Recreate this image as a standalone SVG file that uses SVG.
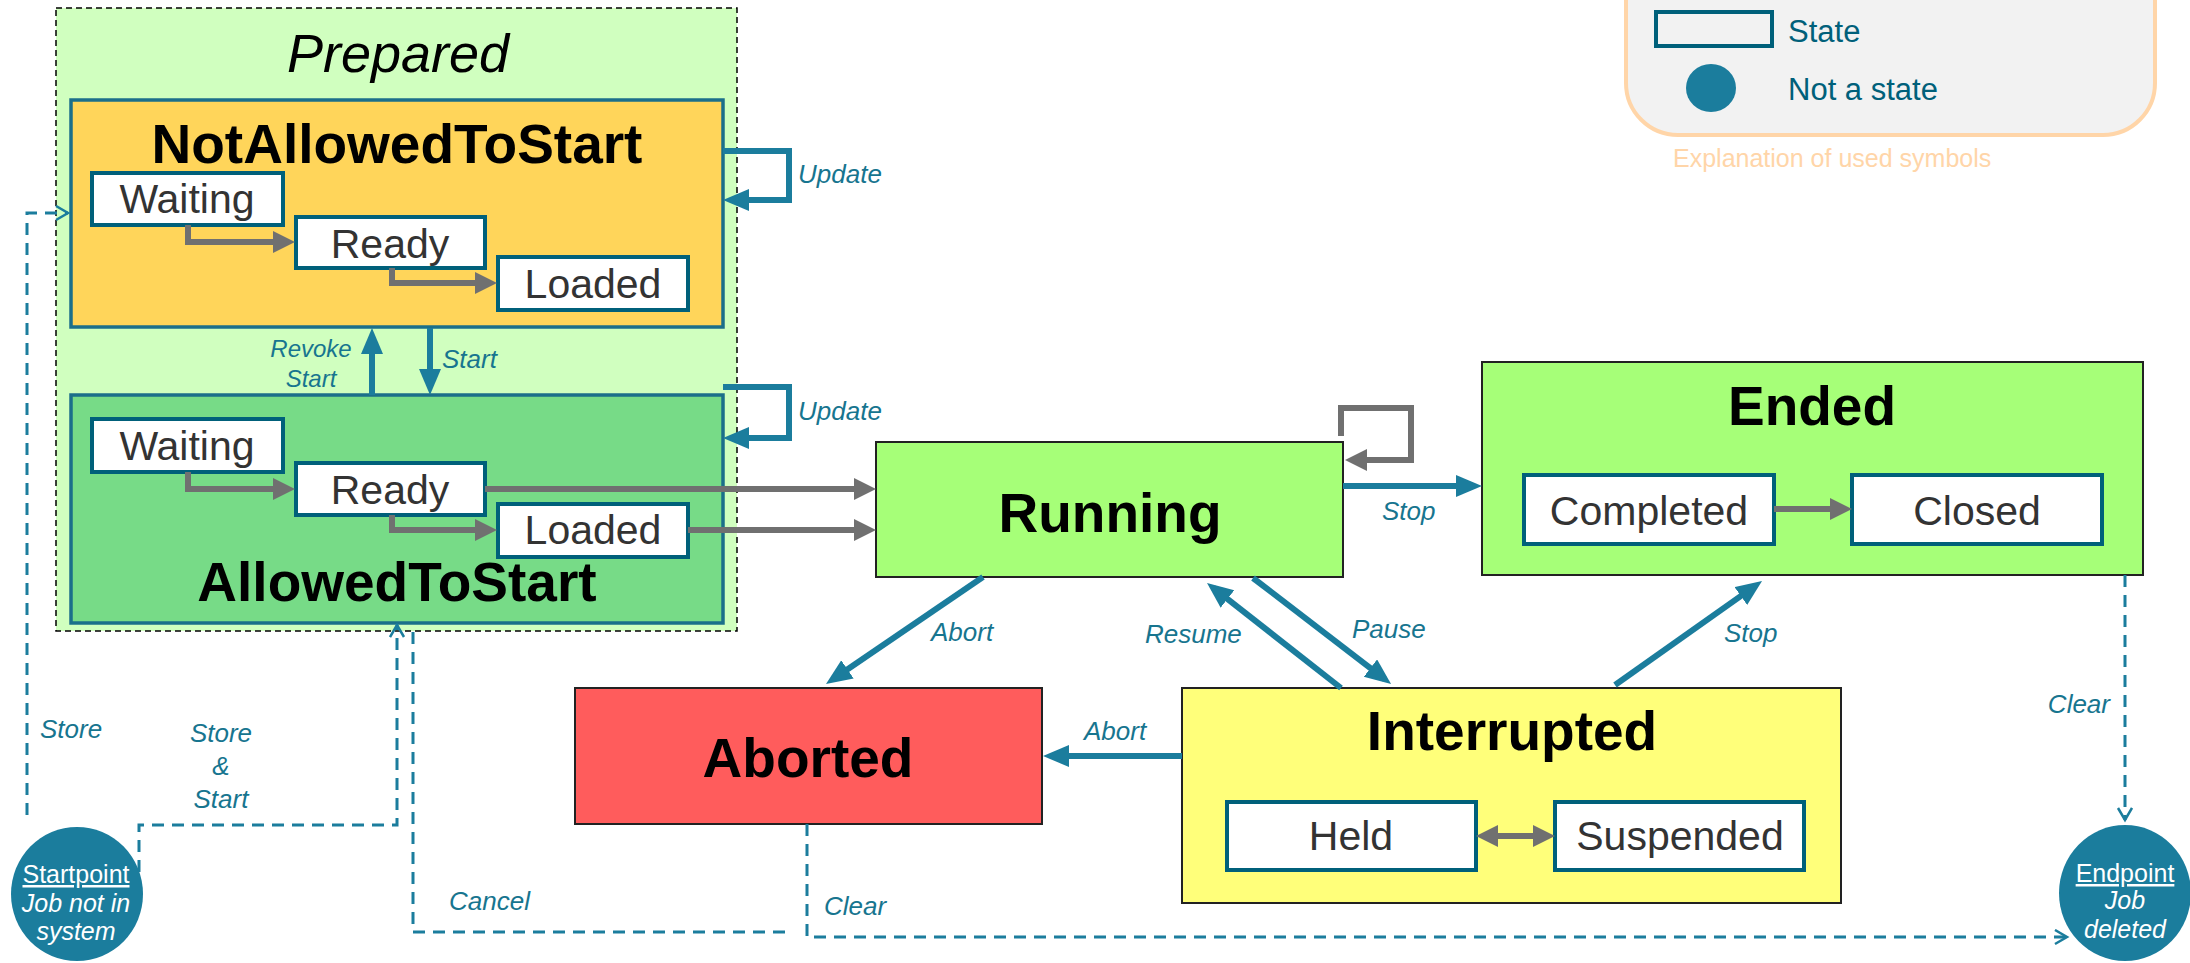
<svg xmlns="http://www.w3.org/2000/svg" width="2190" height="963" viewBox="0 0 2190 963">
<style>
text{font-family:"Liberation Sans",Arial,sans-serif}
.title{font-weight:bold;fill:#000;font-size:55px;text-anchor:middle}
.sub{fill:#333;font-size:41px;text-anchor:middle}
.lbl{fill:#17758f;font-style:italic;font-size:26px}
.sm{fill:#17758f;font-style:italic;font-size:24px;text-anchor:middle}
.subbox{fill:#fff;stroke:#00607a;stroke-width:4}
.group{stroke:#1b6f8a;stroke-width:3.5}
.big{stroke:#222;stroke-width:2}
.teal{fill:none;stroke:#1b7d9d;stroke-width:6}
.gray{fill:none;stroke:#707070;stroke-width:6}
.dash{fill:none;stroke:#1b7d9d;stroke-width:3;stroke-dasharray:12 8}
.pt{fill:#fff;font-size:25px;text-anchor:middle}
</style>
<defs>
<marker id="ta" markerUnits="userSpaceOnUse" markerWidth="28" markerHeight="24" refX="18" refY="11" orient="auto"><path d="M0,0 L26,11 L0,22 z" fill="#1b7d9d"/></marker>
<marker id="ga" markerUnits="userSpaceOnUse" markerWidth="24" markerHeight="24" refX="15" refY="11" orient="auto-start-reverse"><path d="M0,0 L22,11 L0,22 z" fill="#707070"/></marker>
<marker id="oa" markerUnits="userSpaceOnUse" markerWidth="16" markerHeight="18" refX="13" refY="8" orient="auto"><path d="M1,1 L13,8 L1,15" fill="none" stroke="#1b7d9d" stroke-width="2.5"/></marker>
</defs>

<g id="legend">
<rect x="1626" y="-60" width="529" height="195" rx="52" fill="#f2f2f2" stroke="#ffd5a8" stroke-width="4"/>
<rect x="1656" y="12" width="116" height="34" fill="none" stroke="#00607a" stroke-width="4"/>
<text x="1788" y="42" font-size="31" fill="#00607a">State</text>
<ellipse cx="1711" cy="88" rx="25" ry="24" fill="#1b7d9d"/>
<text x="1788" y="100" font-size="31" fill="#00607a">Not a state</text>
<text x="1673" y="167" font-size="25" fill="#ffd5a8">Explanation of used symbols</text>
</g>

<g id="prepared">
<rect x="56" y="8" width="681" height="623" fill="#d0ffbf" stroke="#000" stroke-width="1.5" stroke-dasharray="6 4"/>
<text x="398" y="72" font-size="54" font-style="italic" text-anchor="middle" fill="#000">Prepared</text>
</g>

<g id="notAllowedToStart">
<rect x="71" y="100" width="652" height="227" fill="#ffd55a" class="group"/>
<text x="397" y="163" class="title">NotAllowedToStart</text>
<rect x="92" y="173" width="191" height="52" class="subbox"/>
<text x="187" y="213" class="sub">Waiting</text>
<rect x="296" y="217" width="189" height="51" class="subbox"/>
<text x="390" y="258" class="sub">Ready</text>
<rect x="498" y="257" width="190" height="53" class="subbox"/>
<text x="593" y="298" class="sub">Loaded</text>
</g>

<g id="allowedToStart">
<rect x="71" y="395" width="652" height="228" fill="#77db87" class="group"/>
<rect x="92" y="419" width="191" height="53" class="subbox"/>
<text x="187" y="460" class="sub">Waiting</text>
<rect x="296" y="463" width="189" height="52" class="subbox"/>
<text x="390" y="504" class="sub">Ready</text>
<rect x="498" y="504" width="190" height="53" class="subbox"/>
<text x="593" y="544" class="sub">Loaded</text>
<text x="397" y="601" class="title">AllowedToStart</text>
</g>

<g id="running">
<rect x="876" y="442" width="467" height="135" fill="#a6ff78" class="big"/>
<text x="1110" y="532" class="title" font-size="56">Running</text>
</g>

<g id="ended">
<rect x="1482" y="362" width="661" height="213" fill="#a6ff78" class="big"/>
<text x="1812" y="425" class="title">Ended</text>
<rect x="1524" y="475" width="250" height="69" class="subbox"/>
<text x="1649" y="525" class="sub">Completed</text>
<rect x="1852" y="475" width="250" height="69" class="subbox"/>
<text x="1977" y="525" class="sub">Closed</text>
</g>

<g id="aborted">
<rect x="575" y="688" width="467" height="136" fill="#ff5c5c" class="big"/>
<text x="808" y="777" class="title">Aborted</text>
</g>

<g id="interrupted">
<rect x="1182" y="688" width="659" height="215" fill="#ffff7a" class="big"/>
<text x="1512" y="750" class="title">Interrupted</text>
<rect x="1227" y="802" width="249" height="68" class="subbox"/>
<text x="1351" y="850" class="sub">Held</text>
<rect x="1555" y="802" width="249" height="68" class="subbox"/>
<text x="1680" y="850" class="sub">Suspended</text>
</g>

<g id="startpoint">
<ellipse cx="77" cy="894" rx="66" ry="67" fill="#1b7d9d"/>
<text x="76" y="883" class="pt" text-decoration="underline">Startpoint</text>
<text x="76" y="912" class="pt" font-style="italic">Job not in</text>
<text x="76" y="940" class="pt" font-style="italic">system</text>
</g>

<g id="endpoint">
<ellipse cx="2125" cy="893" rx="66" ry="68" fill="#1b7d9d"/>
<text x="2125" y="882" class="pt" text-decoration="underline">Endpoint</text>
<text x="2125" y="909" class="pt" font-style="italic">Job</text>
<text x="2125" y="938" class="pt" font-style="italic">deleted</text>
</g>

<g id="connectors">
<path class="gray" d="M188,225 V242 H288" marker-end="url(#ga)"/>
<path class="gray" d="M392,268 V283 H490" marker-end="url(#ga)"/>
<path class="gray" d="M188,472 V489 H288" marker-end="url(#ga)"/>
<path class="gray" d="M392,515 V530 H490" marker-end="url(#ga)"/>
<path class="gray" d="M485,489 H869" marker-end="url(#ga)"/>
<path class="gray" d="M688,530 H869" marker-end="url(#ga)"/>
<path class="gray" d="M1341,436 V408 H1411 V460 H1352" marker-end="url(#ga)"/>
<path class="gray" d="M1774,509 H1845" marker-end="url(#ga)"/>
<path class="gray" d="M1483,836 H1548" marker-start="url(#ga)" marker-end="url(#ga)"/>

<path class="teal" d="M723,151 H789 V200 H731" marker-end="url(#ta)"/>
<text x="798" y="183" class="lbl">Update</text>
<path class="teal" d="M723,387 H789 V438 H731" marker-end="url(#ta)"/>
<text x="798" y="420" class="lbl">Update</text>
<path class="teal" d="M372,395 V336" marker-end="url(#ta)"/>
<text x="311" y="357" class="sm">Revoke</text>
<text x="311" y="387" class="sm">Start</text>
<path class="teal" d="M430,328 V387" marker-end="url(#ta)"/>
<text x="442" y="368" class="lbl" font-size="24">Start</text>

<path class="teal" d="M1343,486 H1474" marker-end="url(#ta)"/>
<text x="1382" y="520" class="lbl">Stop</text>
<path class="teal" d="M983,577 L832.6,679.5" marker-end="url(#ta)"/>
<text x="931" y="641" class="lbl">Abort</text>
<path class="teal" d="M1253,578 L1384.7,679.1" marker-end="url(#ta)"/>
<text x="1352" y="638" class="lbl">Pause</text>
<path class="teal" d="M1341,688 L1213.3,587.9" marker-end="url(#ta)"/>
<text x="1145" y="643" class="lbl">Resume</text>
<path class="teal" d="M1615,685 L1755.5,585.6" marker-end="url(#ta)"/>
<text x="1724" y="642" class="lbl">Stop</text>
<path class="teal" d="M1182,756 H1051" marker-end="url(#ta)"/>
<text x="1084" y="740" class="lbl">Abort</text>

<path class="dash" d="M27,815 V213 H68" marker-end="url(#oa)"/>
<text x="40" y="738" class="lbl">Store</text>
<path class="dash" d="M139,872 V825 H397 V625" marker-end="url(#oa)"/>
<text x="221" y="742" class="lbl" text-anchor="middle">Store</text>
<text x="221" y="775" class="lbl" text-anchor="middle">&amp;</text>
<text x="221" y="808" class="lbl" text-anchor="middle">Start</text>
<path class="dash" d="M413,632 V932 H791"/>
<text x="449" y="910" class="lbl">Cancel</text>
<path class="dash" d="M807,824 V937 H2067" marker-end="url(#oa)"/>
<text x="824" y="915" class="lbl">Clear</text>
<path class="dash" d="M2125,575 V820" marker-end="url(#oa)"/>
<text x="2110" y="713" class="lbl" text-anchor="end">Clear</text>
</g>
</svg>
